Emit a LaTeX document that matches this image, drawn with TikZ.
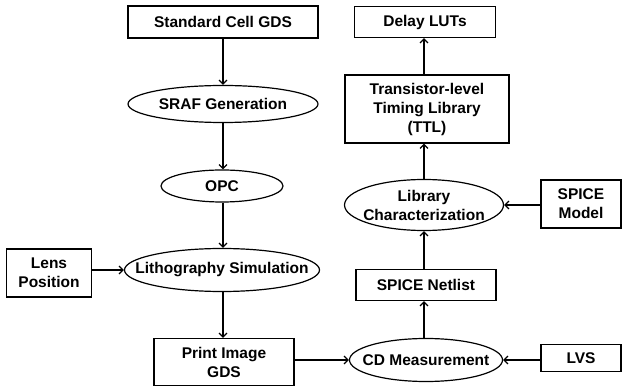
\documentclass[tikz,border=0pt]{standalone}
\usepackage{fontspec}
\setmainfont{Liberation Sans}
\usetikzlibrary{shapes.geometric,arrows.meta}
\begin{document}
\begin{tikzpicture}[x=1pt,y=-1pt,
  every node/.style={font=\bfseries\fontsize{15.5}{19}\selectfont, align=center, line width=1.2pt},
  rbox/.style={draw, rectangle, inner sep=2pt},
  oval/.style={draw, ellipse, inner xsep=-30pt, inner ysep=-8pt},
  conn/.style={line width=1.2pt, -{Straight Barb[length=4pt,width=8pt,line width=1.2pt]}}
]
\useasboundingbox (0,0) rectangle (624,387);
% left column
\node[rbox, minimum width=190pt, minimum height=32pt] (std) at (223,22) {Standard Cell GDS};
\node[oval, minimum width=190pt, minimum height=37pt] (sraf) at (223,104) {SRAF Generation};
\node[oval, minimum width=122pt, minimum height=32pt] (opc) at (222,186) {OPC};
\node[oval, minimum width=195pt, minimum height=43pt] (litho) at (222,270) {Lithography Simulation};
\node[rbox, minimum width=85pt, minimum height=48pt] (lens) at (49,273) {Lens\\Position};
\node[rbox, minimum width=140pt, minimum height=47pt] (print) at (224,362) {Print Image\\GDS};
% right column
\node[rbox, minimum width=141pt, minimum height=31pt] (delay) at (425,22) {Delay LUTs};
\node[rbox, minimum width=164pt, minimum height=68pt] (ttl) at (427,109) {Transistor-level\\Timing Library\\(TTL)};
\node[oval, minimum width=159pt, minimum height=51pt] (libc) at (424,205) {Library\\Characterization};
\node[rbox, minimum width=80pt, minimum height=48pt] (model) at (581,204) {SPICE\\Model};
\node[rbox, minimum width=140pt, minimum height=31pt] (netlist) at (426,285) {SPICE Netlist};
\node[oval, minimum width=153pt, minimum height=43pt] (cd) at (426,360) {CD Measurement};
\node[rbox, minimum width=80pt, minimum height=27pt] (lvs) at (581,358) {LVS};
% connectors
\draw[conn] (std.south -| sraf) -- (sraf.north);
\draw[conn] (sraf.south) -- (sraf.south |- opc.north);
\draw[conn] (sraf.south |- opc.south) -- (sraf.south |- litho.north);
\draw[conn] (sraf.south |- litho.south) -- (sraf.south |- print.north);
\draw[conn] (lens.east |- litho) -- (litho.west);
\draw[conn] (print.east |- cd) -- (cd.west);
\draw[conn] (lvs.west |- cd) -- (cd.east);
\draw[conn] (cd.north -| libc) -- (netlist.south -| libc);
\draw[conn] (netlist.north -| libc) -- (libc.south);
\draw[conn] (libc.north) -- (ttl.south -| libc);
\draw[conn] (ttl.north -| libc) -- (delay.south -| libc);
\draw[conn] (model.west |- libc) -- (libc.east);
\end{tikzpicture}
\end{document}
